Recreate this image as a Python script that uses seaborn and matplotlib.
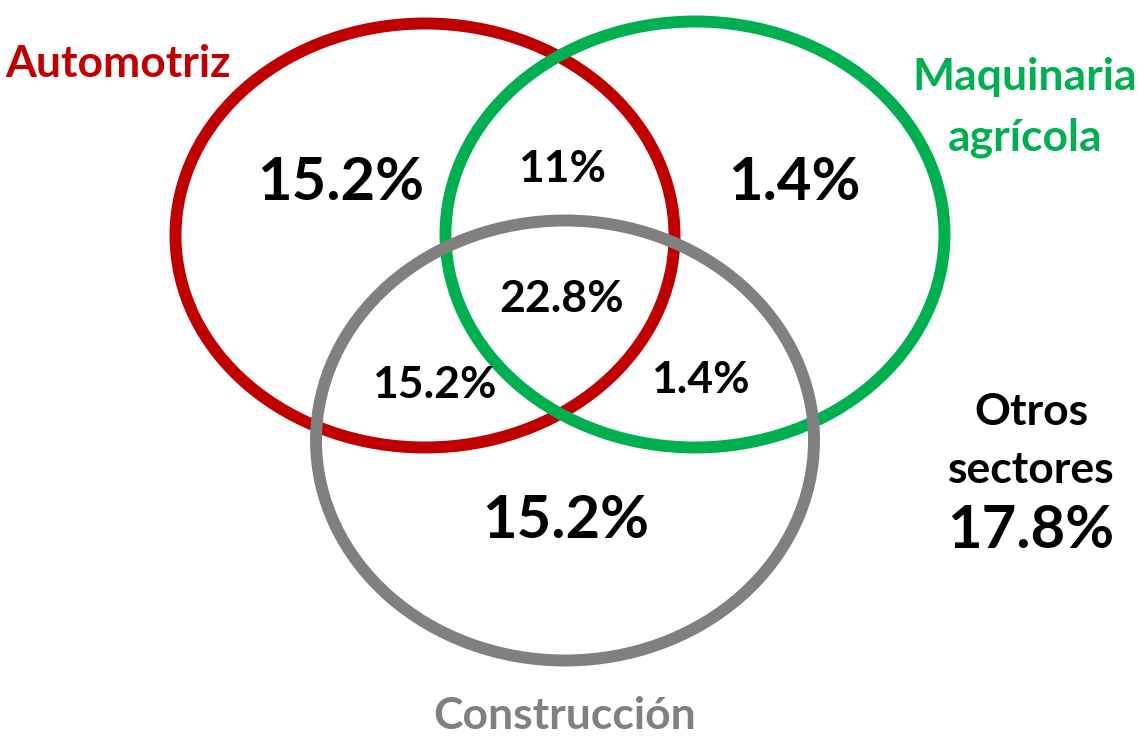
import matplotlib
matplotlib.use("Agg")
import matplotlib.pyplot as plt
from matplotlib.patches import Ellipse
import seaborn as sns

# Venn data: share of firms by sector combination (%)
set_names = ["Automotriz", "Maquinaria\nagrícola", "Construcción"]
set_colors = ["#C00000", "#00B050", "#808080"]
region_names = ["solo_auto", "auto_maq", "solo_maq", "los_tres",
                "auto_cons", "maq_cons", "solo_cons"]
region_values = [15.2, 11, 1.4, 22.8, 15.2, 1.4, 15.2]
otros_label = "Otros\nsectores"
otros_value = 17.8

sns.set_theme(style="white")
plt.rcParams["font.family"] = ["Lato", "DejaVu Sans"]

W, H = 1141, 737
fig = plt.figure(figsize=(W / 100, H / 100), dpi=100)
ax = fig.add_axes([0, 0, 1, 1])
ax.set_xlim(0, W)
ax.set_ylim(H, 0)
ax.set_aspect("equal")
ax.axis("off")

# ellipse geometry in pixel space (center x, center y, width, height)
shapes = [(425, 235.5, 499, 424), (695, 234.5, 499, 426), (565, 440.5, 498, 440)]
for (cx, cy, w, h), col in zip(shapes, set_colors):
    ax.add_patch(Ellipse((cx, cy), w, h, fill=False, edgecolor=col, linewidth=8.6))

# set titles
title_pos = [(118, 77), (1025, 90), (565, 729)]
for name, col, (x, y) in zip(set_names, set_colors, title_pos):
    lines = name.split("\n")
    for i, ln in enumerate(lines):
        ax.text(x, y + i * 60, ln, color=col, fontsize=32, fontweight="bold",
                ha="center", va="baseline")

# region values
region_pos = [(341, 200), (562, 182), (794, 200), (562, 312),
              (434, 398), (700, 393), (566, 538)]
big = {"solo_auto", "solo_maq", "solo_cons"}
for name, val, (x, y) in zip(region_names, region_values, region_pos):
    size = 43 if name in big else 32
    ax.text(x, y, f"{val:g}%", color="black", fontsize=size, fontweight="bold",
            ha="center", va="baseline")

# others
for i, ln in enumerate(otros_label.split("\n")):
    ax.text(1031, 425 + i * 58, ln, color="black", fontsize=32, fontweight="bold",
            ha="center", va="baseline")
ax.text(1031, 548, f"{otros_value:g}%", color="black", fontsize=43,
        fontweight="bold", ha="center", va="baseline")

fig.savefig("out.png", dpi=100, facecolor="white")
